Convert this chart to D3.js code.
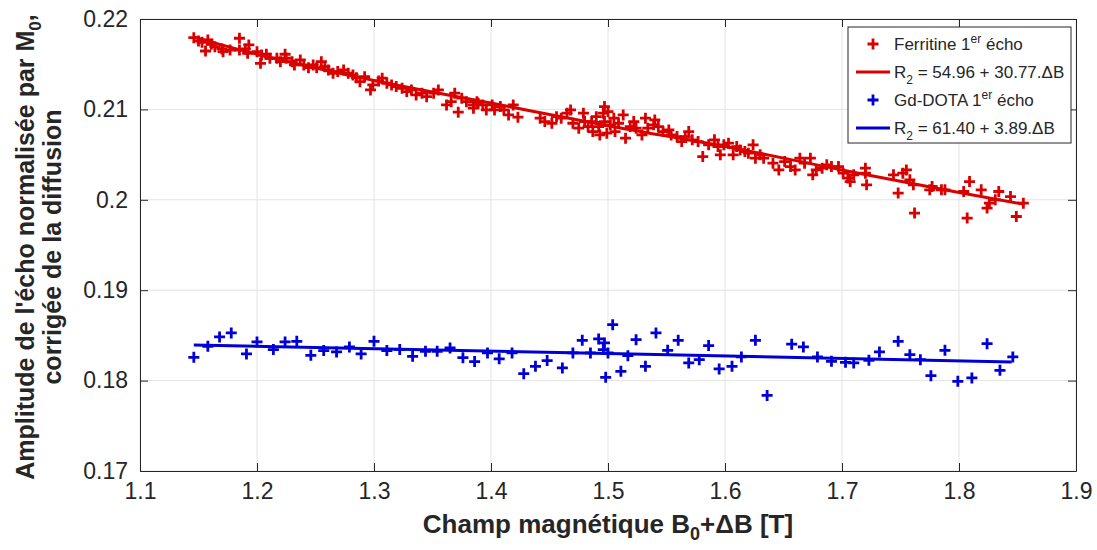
<!DOCTYPE html>
<html>
<head>
<meta charset="utf-8">
<script src="https://cdn.jsdelivr.net/npm/d3@7"></script>
<style>
  body { margin: 0; background: #fff; }
  svg { display: block; font-family: Arial, "Liberation Sans", sans-serif; }
</style>
</head>
<body>
<svg id="chart" width="1097" height="550"></svg>
<script>
// Ferritine, 1er écho : [B0+ΔB (T), amplitude]
const ferritine = [
  [1.146,0.21793],[1.150,0.21757],[1.153,0.21743],[1.156,0.21646],[1.158,0.21768],[1.161,0.21720],
  [1.164,0.21694],[1.170,0.21669],[1.171,0.21639],[1.177,0.21657],[1.185,0.21787],[1.185,0.21657],
  [1.190,0.21669],[1.193,0.21713],[1.192,0.21621],[1.200,0.21639],[1.203,0.21510],[1.204,0.21602],
  [1.208,0.21610],[1.211,0.21566],[1.217,0.21566],[1.220,0.21528],[1.224,0.21610],[1.225,0.21566],
  [1.230,0.21528],[1.232,0.21492],[1.237,0.21547],[1.240,0.21492],[1.244,0.21462],[1.248,0.21492],
  [1.251,0.21462],[1.255,0.21528],[1.258,0.21473],[1.261,0.21436],[1.265,0.21400],[1.269,0.21418],
  [1.274,0.21436],[1.278,0.21400],[1.282,0.21381],[1.285,0.21351],[1.288,0.21307],[1.292,0.21362],
  [1.297,0.21215],[1.299,0.21271],[1.304,0.21315],[1.307,0.21345],[1.311,0.21289],[1.315,0.21271],
  [1.319,0.21252],[1.324,0.21234],[1.328,0.21197],[1.332,0.21215],[1.336,0.21160],[1.341,0.21179],
  [1.345,0.21141],[1.351,0.21179],[1.355,0.21215],[1.362,0.21050],[1.366,0.21086],[1.369,0.21179],
  [1.372,0.20969],[1.375,0.21124],[1.379,0.21086],[1.385,0.21050],[1.388,0.21086],[1.385,0.21013],
  [1.389,0.21068],[1.393,0.21050],[1.396,0.20994],[1.401,0.21050],[1.403,0.20994],[1.408,0.21031],
  [1.411,0.20994],[1.415,0.20939],[1.419,0.21050],[1.423,0.20914],[1.442,0.20903],[1.446,0.20865],
  [1.452,0.20847],[1.456,0.20920],[1.460,0.20903],[1.465,0.20958],[1.468,0.20994],[1.470,0.20847],
  [1.475,0.20792],[1.479,0.20958],[1.480,0.20865],[1.483,0.20810],[1.486,0.20865],[1.487,0.20755],
  [1.490,0.20920],[1.492,0.20810],[1.493,0.20718],[1.496,0.20958],[1.497,0.21031],[1.497,0.20865],
  [1.499,0.20737],[1.500,0.20976],[1.502,0.20829],[1.505,0.20903],[1.506,0.20755],[1.509,0.20847],
  [1.513,0.20939],[1.515,0.20682],[1.519,0.20810],[1.522,0.20865],[1.524,0.20792],[1.529,0.20718],
  [1.532,0.20903],[1.534,0.20792],[1.539,0.20829],[1.540,0.20884],[1.543,0.20810],[1.547,0.20755],
  [1.552,0.20773],[1.554,0.20718],[1.559,0.20699],[1.563,0.20644],[1.566,0.20699],[1.569,0.20755],
  [1.572,0.20663],[1.577,0.20644],[1.581,0.20478],[1.586,0.20608],[1.591,0.20663],[1.594,0.20589],
  [1.596,0.20497],[1.599,0.20608],[1.603,0.20626],[1.607,0.20497],[1.610,0.20589],[1.613,0.20552],
  [1.617,0.20534],[1.620,0.20516],[1.624,0.20608],[1.626,0.20461],[1.630,0.20497],[1.633,0.20461],
  [1.641,0.20405],[1.646,0.20331],[1.651,0.20423],[1.656,0.20368],[1.660,0.20331],[1.664,0.20461],
  [1.668,0.20405],[1.673,0.20461],[1.675,0.20276],[1.678,0.20331],[1.683,0.20350],[1.687,0.20387],
  [1.691,0.20368],[1.697,0.20368],[1.701,0.20295],[1.705,0.20240],[1.710,0.20276],[1.707,0.20202],
  [1.720,0.20350],[1.721,0.20166],[1.720,0.20295],[1.744,0.20276],[1.748,0.20074],[1.752,0.20295],
  [1.755,0.20331],[1.758,0.20221],[1.761,0.20166],[1.762,0.19853],[1.777,0.20147],[1.775,0.20110],
  [1.785,0.20110],[1.788,0.20110],[1.804,0.20092],[1.807,0.19798],[1.809,0.20202],[1.819,0.20110],
  [1.824,0.19908],[1.826,0.19963],[1.831,0.20000],[1.834,0.20092],[1.844,0.20036],[1.849,0.19815],
  [1.855,0.19963]
];

// Gd-DOTA, 1er écho
const gdDota = [
  [1.146,0.18257],[1.158,0.18379],[1.168,0.18483],[1.178,0.18527],[1.191,0.18295],[1.200,0.18428],
  [1.214,0.18343],[1.224,0.18428],[1.234,0.18434],[1.246,0.18280],[1.257,0.18332],[1.268,0.18317],
  [1.279,0.18372],[1.289,0.18295],[1.300,0.18434],[1.311,0.18332],[1.322,0.18343],[1.333,0.18269],
  [1.344,0.18324],[1.354,0.18324],[1.365,0.18361],[1.376,0.18254],[1.386,0.18210],[1.397,0.18306],
  [1.407,0.18241],[1.418,0.18306],[1.428,0.18077],[1.438,0.18158],[1.448,0.18221],[1.461,0.18140],
  [1.470,0.18306],[1.478,0.18445],[1.485,0.18306],[1.492,0.18461],[1.497,0.18417],[1.498,0.18036],
  [1.496,0.18343],[1.500,0.18306],[1.504,0.18619],[1.511,0.18103],[1.517,0.18276],[1.524,0.18453],
  [1.532,0.18158],[1.541,0.18527],[1.551,0.18335],[1.560,0.18445],[1.569,0.18196],[1.578,0.18232],
  [1.586,0.18387],[1.595,0.18129],[1.606,0.18158],[1.614,0.18262],[1.626,0.18445],[1.636,0.17836],
  [1.657,0.18403],[1.667,0.18372],[1.679,0.18262],[1.691,0.18213],[1.703,0.18202],[1.710,0.18196],
  [1.723,0.18224],[1.732,0.18317],[1.748,0.18434],[1.758,0.18287],[1.767,0.18232],[1.776,0.18055],
  [1.788,0.18335],[1.799,0.17992],[1.811,0.18030],[1.824,0.18409],[1.835,0.18114],[1.846,0.18262]
];

// fitted curves
const ferritineFit = [
  [1.146,0.2180],[1.2,0.2161],[1.3,0.2132],[1.4,0.2107],[1.5,0.2082],
  [1.6,0.2059],[1.7,0.2033],[1.8,0.2008],[1.856,0.1995]
];
const gdDotaFit = [[1.146,0.18395],[1.5,0.18300],[1.845,0.18205]];

const xTicks = [1.1,1.2,1.3,1.4,1.5,1.6,1.7,1.8,1.9];
const yTicks = [0.17,0.18,0.19,0.2,0.21,0.22];

const RED = '#d90000';
const BLUE = '#0000d6';
const AXIS = '#262626';

const svg = d3.select('#chart');
const margin = { left: 140, right: 1076, top: 19, bottom: 471 };

const x = d3.scaleLinear().domain([1.1, 1.9]).range([margin.left, margin.right]);
const y = d3.scaleLinear().domain([0.17, 0.22]).range([margin.bottom, margin.top]);

// grid
const grid = svg.append('g').attr('stroke', '#e3e3e3').attr('stroke-width', 1);
xTicks.forEach(v => grid.append('line')
  .attr('x1', x(v)).attr('x2', x(v)).attr('y1', margin.top).attr('y2', margin.bottom));
yTicks.forEach(v => grid.append('line')
  .attr('x1', margin.left).attr('x2', margin.right).attr('y1', y(v)).attr('y2', y(v)));

// box + axes (ticks inside, MATLAB style)
const fmtY = d => d === 0.2 ? '0.2' : d3.format('.2f')(d);
const axB = svg.append('g').attr('transform', `translate(0,${margin.bottom})`)
  .call(d3.axisBottom(x).tickValues(xTicks).tickFormat(d3.format('.1f'))
    .tickSizeInner(-8).tickSizeOuter(0).tickPadding(12));
const axT = svg.append('g').attr('transform', `translate(0,${margin.top})`)
  .call(d3.axisTop(x).tickValues(xTicks).tickFormat('').tickSizeInner(-8).tickSizeOuter(0));
const axL = svg.append('g').attr('transform', `translate(${margin.left},0)`)
  .call(d3.axisLeft(y).tickValues(yTicks).tickFormat(fmtY)
    .tickSizeInner(-8).tickSizeOuter(0).tickPadding(12));
const axR = svg.append('g').attr('transform', `translate(${margin.right},0)`)
  .call(d3.axisRight(y).tickValues(yTicks).tickFormat('').tickSizeInner(-8).tickSizeOuter(0));

[axB, axT, axL, axR].forEach(a => {
  a.selectAll('path, line').attr('stroke', AXIS).attr('stroke-width', 1);
  a.selectAll('text').attr('fill', AXIS).attr('font-size', '23px')
    .attr('font-family', 'Arial, "Liberation Sans", sans-serif');
});

// fit lines
const line = d3.line().x(d => x(d[0])).y(d => y(d[1])).curve(d3.curveMonotoneX);
svg.append('path').datum(ferritineFit).attr('d', line)
  .attr('fill', 'none').attr('stroke', RED).attr('stroke-width', 3);
svg.append('path').datum(gdDotaFit).attr('d', line)
  .attr('fill', 'none').attr('stroke', BLUE).attr('stroke-width', 3);

// '+' markers
const plus = 'M-5.5,0H5.5M0,-5.5V5.5';
function drawMarkers(data, color) {
  svg.append('g').selectAll('path')
    .data(data)
    .join('path')
    .attr('transform', d => `translate(${x(d[0])},${y(d[1])})`)
    .attr('d', plus)
    .attr('stroke', color)
    .attr('stroke-width', 2.8)
    .attr('fill', 'none');
}
drawMarkers(ferritine, RED);
drawMarkers(gdDota, BLUE);

// axis labels
const xl = svg.append('text')
  .attr('x', (margin.left + margin.right) / 2).attr('y', 533)
  .attr('text-anchor', 'middle').attr('font-size', '26px').attr('font-weight', 'bold')
  .attr('fill', AXIS);
xl.append('tspan').text('Champ magnétique B');
xl.append('tspan').attr('font-size', '18px').attr('dy', 7).text('0');
xl.append('tspan').attr('dy', -7).text('+ΔB [T]');

const yl = svg.append('text')
  .attr('transform', 'rotate(-90)')
  .attr('text-anchor', 'middle').attr('font-size', '25px').attr('font-weight', 'bold')
  .attr('fill', AXIS);
const yl1 = yl.append('tspan').attr('x', -247).attr('y', 34);
yl1.append('tspan').text("Amplitude de l'écho normalisée par M");
yl1.append('tspan').attr('font-size', '17px').attr('dy', 7).text('0');
yl1.append('tspan').attr('dy', -7).text(',');
yl.append('tspan').attr('x', -247).attr('y', 61).text('corrigée de la diffusion');

// legend
const lg = svg.append('g').attr('transform', 'translate(848,27)');
lg.append('rect').attr('width', 223).attr('height', 116)
  .attr('fill', '#fff').attr('stroke', '#262626').attr('stroke-width', 1);

const legendRows = [
  { kind: 'marker', color: RED, y: 17, label: ['Ferritine 1', 'er', ' écho'] },
  { kind: 'line', color: RED, y: 45, label: ['R', '2', ' = 54.96 + 30.77.ΔB'] },
  { kind: 'marker', color: BLUE, y: 73, label: ['Gd-DOTA 1', 'er', ' écho'] },
  { kind: 'line', color: BLUE, y: 101, label: ['R', '2', ' = 61.40 + 3.89.ΔB'] }
];
legendRows.forEach(r => {
  if (r.kind === 'marker') {
    lg.append('path').attr('transform', `translate(25,${r.y})`).attr('d', plus)
      .attr('stroke', r.color).attr('stroke-width', 2.8).attr('fill', 'none');
  } else {
    lg.append('line').attr('x1', 8).attr('x2', 42).attr('y1', r.y).attr('y2', r.y)
      .attr('stroke', r.color).attr('stroke-width', 3);
  }
  const t = lg.append('text').attr('x', 46).attr('y', r.y + 6)
    .attr('font-size', '17px').attr('fill', '#262626');
  t.append('tspan').text(r.label[0]);
  const shift = r.kind === 'marker' ? -7 : 6;
  t.append('tspan').attr('font-size', '12px').attr('dy', shift).text(r.label[1]);
  t.append('tspan').attr('dy', -shift).text(r.label[2]);
});
</script>
</body>
</html>
